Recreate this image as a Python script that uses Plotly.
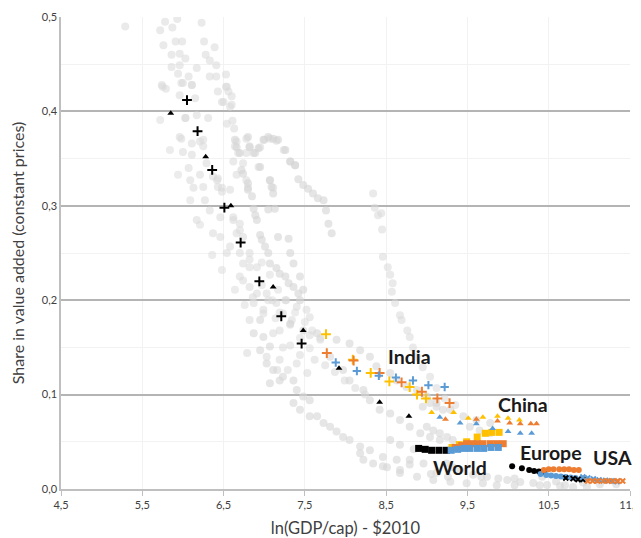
import plotly.graph_objects as go

# ---------------- data ----------------
x_ticks = [4.5, 5.5, 6.5, 7.5, 8.5, 9.5, 10.5, 11.5]
x_ticklabels = ["4,5", "5,5", "6,5", "7,5", "8,5", "9,5", "10,5", "11,5"]
y_ticks = [0.0, 0.1, 0.2, 0.3, 0.4, 0.5]
y_ticklabels = ["0,0", "0,1", "0,2", "0,3", "0,4", "0,5"]

# background countries (grey)
grey_upper_x = [5.29, 5.78, 5.93, 6.23, 5.72, 5.87, 5.76, 5.91, 5.99, 6.26, 6.39, 5.86, 5.96, 6.03, 6.28, 6.33, 6.41, 5.86, 5.96, 6.17,
                5.94, 6.07, 6.33, 6.41, 6.53, 5.74, 5.79, 5.98, 6.11, 6.43, 6.53, 6.56, 6.60, 6.50, 5.96, 6.15, 6.58, 6.03, 6.17, 6.31,
                6.54, 6.61, 6.63, 5.98, 6.11, 6.21, 6.66, 6.78, 6.99, 7.07, 7.15, 6.64, 6.82, 6.95, 6.00, 6.11, 6.68, 6.78, 6.89, 7.24,
                6.62, 6.74, 6.93, 7.32, 7.38, 6.07, 6.21, 6.43, 6.66, 6.78, 7.07, 6.13, 6.48, 6.80, 7.11]
grey_upper_y = [0.490, 0.495, 0.498, 0.494, 0.486, 0.489, 0.470, 0.474, 0.474, 0.474, 0.468, 0.460, 0.461, 0.456, 0.460, 0.454, 0.449, 0.447, 0.449, 0.446,
                0.440, 0.437, 0.437, 0.437, 0.439, 0.428, 0.424, 0.430, 0.428, 0.421, 0.426, 0.421, 0.416, 0.410, 0.417, 0.414, 0.405, 0.393, 0.396, 0.393,
                0.387, 0.390, 0.382, 0.371, 0.366, 0.368, 0.368, 0.371, 0.370, 0.371, 0.369, 0.363, 0.363, 0.362, 0.357, 0.354, 0.356, 0.356, 0.356, 0.359,
                0.347, 0.345, 0.341, 0.347, 0.343, 0.340, 0.333, 0.329, 0.333, 0.327, 0.327, 0.319, 0.319, 0.319, 0.319]

grey_dense_x = [5.75, 6.00, 6.11, 6.54, 6.48, 6.60, 5.96, 6.03, 6.25, 6.09, 6.25, 6.42, 6.58, 6.17, 6.37, 6.62, 6.70, 6.82, 6.91, 6.54,
                6.74, 6.86, 6.99, 6.82, 7.11, 7.23, 7.40, 7.53, 6.79, 7.03, 7.16]
grey_dense_y = [0.426, 0.430, 0.428, 0.426, 0.410, 0.407, 0.373, 0.393, 0.370, 0.327, 0.320, 0.327, 0.317, 0.285, 0.271, 0.285, 0.274, 0.250, 0.235, 0.250,
                0.221, 0.203, 0.186, 0.179, 0.165, 0.150, 0.133, 0.123, 0.144, 0.140, 0.126]

grey_extra_x = [6.97, 7.07, 7.17, 7.27, 7.38, 7.50, 7.59, 7.69, 7.10, 7.19, 7.32, 7.44, 7.56, 6.97, 7.05, 7.14,
                5.84, 5.94, 6.09, 6.21, 6.36, 6.48, 6.64, 6.76, 5.72]
grey_extra_y = [0.240, 0.227, 0.211, 0.200, 0.187, 0.177, 0.168, 0.160, 0.200, 0.187, 0.174, 0.160, 0.149, 0.216, 0.200, 0.181,
                0.359, 0.333, 0.306, 0.280, 0.248, 0.232, 0.211, 0.195, 0.391]

grey_band_x = [6.25, 6.29, 6.37, 6.43, 6.48, 6.27, 6.33, 6.46, 6.62, 6.70, 6.66, 6.74, 6.46, 6.58, 6.70, 6.82, 6.74, 6.82, 6.70, 6.82,
               6.91, 7.03, 6.87, 6.99, 7.15, 7.23, 7.40, 7.52, 7.56, 7.26, 7.34, 7.56, 7.69, 7.19, 7.32, 7.44, 7.62, 7.75, 7.87, 7.99,
               8.12, 8.24, 7.19, 7.29]
grey_band_y = [0.363, 0.345, 0.331, 0.320, 0.315, 0.306, 0.295, 0.288, 0.288, 0.281, 0.271, 0.267, 0.267, 0.257, 0.250, 0.243, 0.239, 0.235, 0.225, 0.214,
               0.207, 0.207, 0.197, 0.190, 0.197, 0.186, 0.193, 0.190, 0.182, 0.200, 0.179, 0.163, 0.158, 0.168, 0.152, 0.142, 0.137, 0.131, 0.124, 0.115,
               0.107, 0.100, 0.137, 0.126]

grey_arcs_x = [6.64, 6.66, 6.70, 6.72, 6.74, 6.80, 6.80, 6.85, 6.87, 6.89, 6.91, 6.95, 6.97, 7.01, 7.05, 7.07, 7.15, 7.19, 7.26, 7.30,
               7.36, 7.42, 7.44,
               6.80, 6.82, 6.87, 6.93, 6.95, 7.00, 7.05, 7.11, 7.17, 7.26, 7.32, 7.38, 7.42, 7.48, 7.54, 7.60, 7.66, 7.73, 7.76, 7.79,
               7.83, 7.07, 7.09, 7.11, 7.05, 7.13, 7.30, 7.17, 7.32, 7.36, 7.44, 7.48]
grey_arcs_y = [0.370, 0.362, 0.356, 0.338, 0.334, 0.324, 0.317, 0.310, 0.297, 0.290, 0.285, 0.269, 0.264, 0.257, 0.250, 0.239, 0.234, 0.228, 0.225, 0.218,
               0.214, 0.207, 0.200,
               0.373, 0.362, 0.356, 0.361, 0.341, 0.370, 0.373, 0.371, 0.370, 0.359, 0.347, 0.343, 0.328, 0.322, 0.318, 0.313, 0.308, 0.306, 0.295, 0.281,
               0.271, 0.327, 0.320, 0.313, 0.296, 0.297, 0.265, 0.267, 0.250, 0.239, 0.225, 0.211]

grey_right_x = [8.34, 8.36, 8.40, 8.44, 8.45, 8.46, 8.52, 8.55, 8.58, 8.57, 8.61, 8.67, 8.69, 8.76, 8.79, 8.83, 8.88, 8.95, 9.04, 9.12,
                9.22, 9.35]
grey_right_y = [0.313, 0.298, 0.290, 0.292, 0.275, 0.246, 0.235, 0.227, 0.218, 0.209, 0.197, 0.184, 0.179, 0.168, 0.161, 0.150, 0.140, 0.129, 0.119, 0.107,
                0.096, 0.089]

grey_lower_x = [6.95, 6.87, 6.99, 7.07, 6.95, 7.03, 7.11, 7.23, 7.36, 7.07, 7.19, 7.40, 7.48, 7.56, 7.36, 7.44, 7.56, 7.65, 7.73, 7.81,
                7.89, 7.97, 8.05, 8.18, 8.30, 8.46, 8.63, 8.79, 8.96, 9.12,
                8.18, 8.22, 8.34, 8.46, 8.67, 8.88, 9.08, 9.29, 9.49, 9.69, 9.86, 10.08, 10.39, 10.70,
                8.55, 8.67, 8.84, 8.79, 8.51, 8.67, 9.05, 9.26, 9.67, 9.88, 10.08, 10.42, 10.59, 10.92, 11.13, 11.33,
                9.24, 9.32, 9.41, 9.57, 9.74, 9.99, 10.15, 10.31, 10.48, 10.64, 10.80, 10.97]
grey_lower_y = [0.179, 0.165, 0.161, 0.151, 0.147, 0.133, 0.126, 0.119, 0.115, 0.112, 0.115, 0.105, 0.098, 0.094, 0.091, 0.084, 0.077, 0.077, 0.070, 0.066,
                0.061, 0.055, 0.052, 0.045, 0.041, 0.034, 0.031, 0.031, 0.027, 0.017,
                0.038, 0.031, 0.027, 0.024, 0.017, 0.013, 0.0095, 0.0077, 0.006, 0.006, 0.004, 0.004, 0.004, 0.004,
                0.052, 0.047, 0.042, 0.026, 0.023, 0.020, 0.016, 0.013, 0.013, 0.011, 0.011, 0.013, 0.008, 0.007, 0.005, 0.005,
                0.027, 0.023, 0.020, 0.015, 0.013, 0.0095, 0.0074, 0.0064, 0.0042, 0.0032, 0.002, 0.002]

grey_india_x = [7.32, 7.48, 7.65, 7.89, 8.05, 8.18, 8.30, 8.38, 8.55, 8.63, 8.75, 8.88, 9.00, 9.12, 9.29, 9.45, 9.61, 9.78,
                7.81, 7.97, 8.05, 8.22, 8.30, 8.42, 8.55, 8.67, 8.79, 8.92, 9.04, 9.16,
                8.95, 9.04, 9.12, 9.20, 9.53, 9.65, 9.78, 9.00, 9.08, 9.16, 9.25, 9.32]
grey_india_y = [0.175, 0.168, 0.165, 0.158, 0.154, 0.147, 0.140, 0.130, 0.123, 0.115, 0.108, 0.105, 0.098, 0.091, 0.084, 0.077, 0.073, 0.070,
                0.140, 0.126, 0.115, 0.105, 0.094, 0.084, 0.080, 0.073, 0.066, 0.059, 0.055, 0.052,
                0.087, 0.091, 0.087, 0.084, 0.066, 0.062, 0.059, 0.066, 0.062, 0.059, 0.055, 0.052]

# highlighted series: + (India-like), triangles (China-like), squares (World), circles (Europe), x (USA)
plus_black_x = [6.05, 6.18, 6.36, 6.51, 6.71, 6.94, 7.21, 7.46]
plus_black_y = [0.412, 0.379, 0.338, 0.298, 0.261, 0.220, 0.183, 0.154]
plus_yellow_x = [7.76, 8.09, 8.31, 8.54, 8.79, 8.88, 8.99]
plus_yellow_y = [0.164, 0.137, 0.123, 0.114, 0.108, 0.100, 0.096]
plus_orange_x = [7.77, 8.10, 8.42, 8.69, 8.94, 9.13, 9.28]
plus_orange_y = [0.144, 0.136, 0.123, 0.113, 0.103, 0.096, 0.091]
plus_blue_x = [7.88, 8.14, 8.41, 8.62, 8.83, 9.02, 9.22]
plus_blue_y = [0.134, 0.125, 0.120, 0.118, 0.115, 0.110, 0.108]

tri_black_x = [5.85, 6.28, 6.59, 7.11, 7.48, 7.92, 8.42, 8.78]
tri_black_y = [0.398, 0.352, 0.300, 0.214, 0.168, 0.128, 0.092, 0.077]
tri_yellow_x = [9.06, 9.33, 9.51, 9.69, 9.87, 10.00, 10.14]
tri_yellow_y = [0.081, 0.081, 0.075, 0.076, 0.077, 0.075, 0.073]
tri_orange_x = [9.23, 9.61, 9.87, 10.02, 10.15, 10.28, 10.35]
tri_orange_y = [0.074, 0.074, 0.072, 0.070, 0.069, 0.069, 0.069]
tri_blue_x = [9.16, 9.41, 9.61, 9.81, 10.00, 10.15, 10.29]
tri_blue_y = [0.076, 0.070, 0.069, 0.064, 0.061, 0.059, 0.059]

sq_black_x = [8.90, 8.98, 9.06, 9.15, 9.24]
sq_black_y = [0.043, 0.042, 0.041, 0.041, 0.041]
sq_yellow_x = [9.31, 9.40, 9.49, 9.62, 9.72, 9.80, 9.89]
sq_yellow_y = [0.044, 0.047, 0.050, 0.055, 0.059, 0.060, 0.060]
sq_orange_x = [9.35, 9.43, 9.49, 9.56, 9.62, 9.69, 9.78, 9.86, 9.94]
sq_orange_y = [0.044, 0.046, 0.048, 0.048, 0.048, 0.048, 0.048, 0.048, 0.048]
sq_blue_x = [9.30, 9.38, 9.46, 9.53, 9.62, 9.70, 9.79, 9.88]
sq_blue_y = [0.041, 0.042, 0.043, 0.043, 0.043, 0.043, 0.044, 0.044]

ci_black_x = [10.05, 10.17, 10.26, 10.32, 10.38, 10.44]
ci_black_y = [0.024, 0.022, 0.020, 0.019, 0.0185, 0.018]
ci_orange_x = [10.44, 10.50, 10.56, 10.63, 10.69, 10.75, 10.81, 10.87]
ci_orange_y = [0.020, 0.021, 0.021, 0.021, 0.021, 0.021, 0.020, 0.020]
ci_blue_x = [10.40, 10.47, 10.53, 10.59, 10.65, 10.71, 10.77, 10.83, 10.90]
ci_blue_y = [0.016, 0.0148, 0.0143, 0.0138, 0.0132, 0.0127, 0.0122, 0.0117, 0.0106]

x_black_x = [10.71, 10.80, 10.86, 10.92]
x_black_y = [0.0117, 0.011, 0.010, 0.010]
x_blue_x = [10.92, 10.98, 11.05, 11.12, 11.20, 11.27, 11.34]
x_blue_y = [0.0127, 0.0117, 0.0106, 0.0095, 0.0090, 0.0085, 0.0080]
x_orange_x = [10.98, 11.04, 11.10, 11.17, 11.23, 11.29, 11.35, 11.41]
x_orange_y = [0.0085, 0.0085, 0.0085, 0.0085, 0.0085, 0.0085, 0.0085, 0.0085]

labels = ["India", "China", "World", "Europe", "USA"]
label_x = [8.79, 10.18, 9.41, 10.53, 11.28]
label_y = [0.140, 0.089, 0.023, 0.039, 0.033]

# ---------------- figure ----------------
BLACK = "#000000"
YELLOW = "#ffc000"
ORANGE = "#ed7d31"
BLUE = "#5b9bd5"

fig = go.Figure()

def grey(xs, ys, color, opacity):
    fig.add_trace(go.Scatter(x=xs, y=ys, mode="markers", hoverinfo="skip",
                             marker=dict(symbol="circle", size=8, color=color, opacity=opacity,
                                         line=dict(width=0))))

grey(grey_upper_x, grey_upper_y, "#d8d8d8", 0.55)
grey(grey_dense_x, grey_dense_y, "#d8d8d8", 0.55)
grey(grey_extra_x, grey_extra_y, "#dadada", 0.5)
grey(grey_band_x, grey_band_y, "#d8d8d8", 0.55)
grey(grey_arcs_x, grey_arcs_y, "#d4d4d4", 0.6)
grey(grey_right_x, grey_right_y, "#d8d8d8", 0.55)
grey(grey_lower_x, grey_lower_y, "#d6d6d6", 0.6)
grey(grey_india_x, grey_india_y, "#d6d6d6", 0.6)

def pts(xs, ys, symbol, color, size, lw=0):
    if lw:
        marker = dict(symbol=symbol, size=size, color=color, line=dict(width=lw, color=color))
    else:
        marker = dict(symbol=symbol, size=size, color=color, line=dict(width=0))
    fig.add_trace(go.Scatter(x=xs, y=ys, mode="markers", marker=marker))

# squares
pts(sq_black_x, sq_black_y, "square", BLACK, 7)
pts(sq_yellow_x, sq_yellow_y, "square", YELLOW, 7)
pts(sq_orange_x, sq_orange_y, "square", ORANGE, 7)
pts(sq_blue_x, sq_blue_y, "square", BLUE, 7)
# circles
pts(ci_black_x, ci_black_y, "circle", BLACK, 6)
pts(ci_blue_x, ci_blue_y, "circle", BLUE, 6)
pts(ci_orange_x, ci_orange_y, "circle", ORANGE, 6)
# x
pts(x_black_x, x_black_y, "x-thin", BLACK, 5, 2)
pts(x_blue_x, x_blue_y, "x-thin", BLUE, 5, 2)
pts(x_orange_x, x_orange_y, "x-thin", ORANGE, 5, 2)
# triangles
pts(tri_black_x, tri_black_y, "triangle-up", BLACK, 6)
pts(tri_yellow_x, tri_yellow_y, "triangle-up", YELLOW, 6)
pts(tri_orange_x, tri_orange_y, "triangle-up", ORANGE, 6)
pts(tri_blue_x, tri_blue_y, "triangle-up", BLUE, 6)
# plus
pts(plus_black_x, plus_black_y, "cross-thin", BLACK, 7, 2)
pts(plus_yellow_x, plus_yellow_y, "cross-thin", YELLOW, 7, 2)
pts(plus_orange_x, plus_orange_y, "cross-thin", ORANGE, 7, 2)
pts(plus_blue_x, plus_blue_y, "cross-thin", BLUE, 6, 2)

for t, lx, ly in zip(labels, label_x, label_y):
    fig.add_annotation(x=lx, y=ly, text="<b>" + t + "</b>", showarrow=False,
                       font=dict(family="Lato, Arial, sans-serif", size=19.5, color="#1a1a1a"),
                       xanchor="center", yanchor="middle")

# the page body adds an 8px offset, so the figure is drawn 8px smaller to fit the window
font = "Lato, Arial, sans-serif"
fig.update_layout(
    width=633, height=530,
    margin=dict(l=53, r=11, t=9, b=49),
    paper_bgcolor="white", plot_bgcolor="white",
    showlegend=False,
    font=dict(family=font, color="#404040"),
    xaxis=dict(range=[4.5, 11.5], tickvals=x_ticks, ticktext=x_ticklabels,
               automargin=False,
               showgrid=True, gridcolor="#f2f2f2", gridwidth=1,
               showline=True, linecolor="#bfbfbf", linewidth=1.5,
               ticks="outside", ticklen=5, tickcolor="#bfbfbf",
               zeroline=False, tickfont=dict(size=11, color="#404040"),
               title=dict(text="ln(GDP/cap) - $2010", font=dict(size=16.5, color="#404040"), standoff=15)),
    yaxis=dict(range=[0, 0.5], tickvals=y_ticks, ticktext=y_ticklabels,
               automargin=False,
               showgrid=True, gridcolor="#b4b4b4", gridwidth=1.5,
               minor=dict(dtick=0.05, showgrid=True, gridcolor="#f2f2f2", gridwidth=1),
               showline=True, linecolor="#bfbfbf", linewidth=1.5,
               zeroline=False, ticks="", tickfont=dict(size=11, color="#404040"),
               title=dict(text="Share in value added (constant prices)", font=dict(size=16, color="#404040"), standoff=13)),
)

fig.write_html("out.html")
